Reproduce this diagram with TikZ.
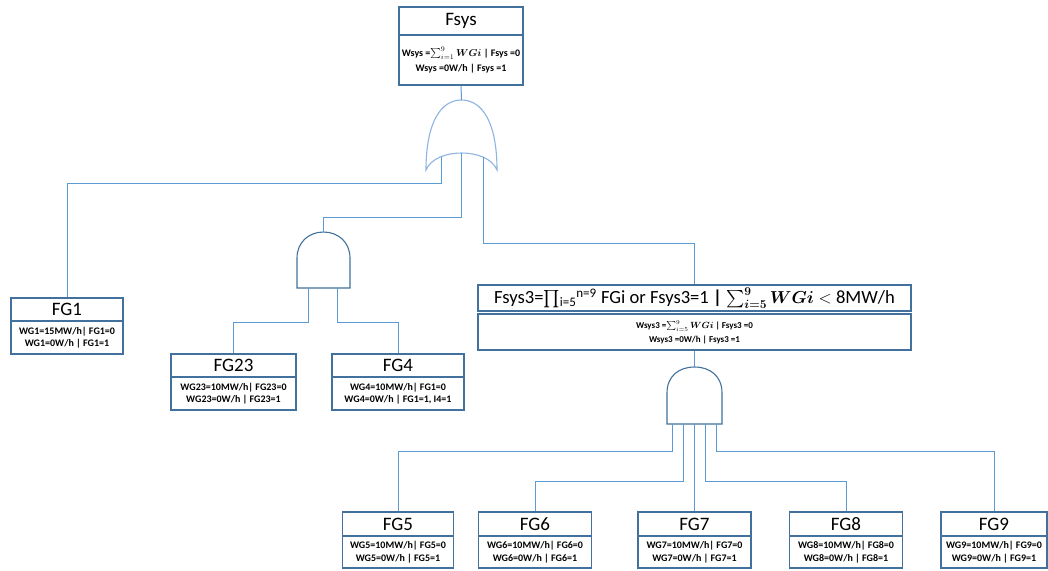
\documentclass[tikz,border=0pt]{standalone}
\usepackage{amsmath,bm}
\usepackage{fontspec}
\setmainfont{Carlito}
\definecolor{boxc}{HTML}{41719C}
\definecolor{linec}{HTML}{5B9BD5}
\definecolor{gatec}{HTML}{8DB4E2}
\begin{document}
\begin{tikzpicture}[x=1pt,y=-1pt,
  ttl/.style={draw=boxc,line width=1.1pt,inner sep=0pt,fill=white,font=\fontsize{19}{19}\selectfont},
  bdy/.style={draw=boxc,line width=1.1pt,inner sep=0pt,fill=white,align=center,font=\bfseries\fontsize{10}{12.5}\selectfont},
  conn/.style={draw=linec,line width=1pt},
  gate/.style={draw=boxc,line width=1.1pt,fill=white},
  orgate/.style={draw=gatec,line width=1.1pt,fill=white}]
\useasboundingbox (0,0) rectangle (1048,570);
% ---------- level coordinates ----------
\coordinate (lv1) at (0,183);
\coordinate (lv2) at (0,217);
\coordinate (lv3) at (0,243);
\coordinate (lv4) at (0,322);
\coordinate (lv5) at (0,451.5);
\coordinate (lv6) at (0,481);
% ---------- boxes ----------
\node[ttl,minimum width=124pt,minimum height=28pt] (fsyst) at (461,21) {Fsys};
\node[bdy,minimum width=124pt,minimum height=50pt,font=\bfseries\fontsize{10}{15}\selectfont] (fsysb) at (461,60)
  {Wsys =$\sum_{i=1}^{9}\bm{WGi}$ | Fsys =0\\Wsys =0W/h | Fsys =1};

\node[ttl,minimum width=112pt,minimum height=23pt] (fg1t) at (67,309.5) {FG1};
\node[bdy,minimum width=112pt,minimum height=33pt] (fg1b) at (67,337.5) {WG1=15MW/h| FG1=0\\WG1=0W/h | FG1=1};

\node[ttl,minimum width=125pt,minimum height=23pt] (fg23t) at (233.5,365.5) {FG23};
\node[bdy,minimum width=125pt,minimum height=33pt] (fg23b) at (233.5,393.5) {WG23=10MW/h| FG23=0\\WG23=0W/h | FG23=1};

\node[ttl,minimum width=132pt,minimum height=23pt] (fg4t) at (398,365.5) {FG4};
\node[bdy,minimum width=132pt,minimum height=33pt] (fg4b) at (398,393.5) {WG4=10MW/h| FG1=0\\WG4=0W/h | FG1=1, I4=1};

\node[ttl,minimum width=433pt,minimum height=26pt,font=\fontsize{18.6}{18.6}\selectfont] (f3t) at (694.5,298)
  {Fsys3=$\prod$\textsubscript{i=5}\textsuperscript{n=9} FGi or Fsys3=1 \textbf{|} $\sum_{\bm{i=5}}^{\bm{9}}\bm{WGi} <$ 8MW/h};
\node[bdy,minimum width=433pt,minimum height=36pt,font=\bfseries\fontsize{9}{13.5}\selectfont] (f3b) at (694.5,332)
  {Wsys3 =$\sum_{i=5}^{9}\bm{WGi}$ | Fsys3 =0\\Wsys3 =0W/h | Fsys3 =1};

\foreach \n/\x/\w in {5/398/111,6/535/113,7/694.5/113,8/846/113,9/994/106}{
  \node[ttl,minimum width=\w pt,minimum height=24pt] (fg\n t) at (\x,524) {FG\n};
  \node[bdy,minimum width=\w pt,minimum height=32pt] (fg\n b) at (\x,552) {WG\n=10MW/h| FG\n=0\\WG\n=0W/h | FG\n=1};
}
% ---------- OR gate ----------
\draw[orgate] (426,170) .. controls (426,122) and (441,100) .. (461.5,100)
  .. controls (482,100) and (497,122) .. (497,170)
  .. controls (492,158) and (476,153) .. (461.5,153)
  .. controls (447,153) and (431,158) .. (426,170) -- cycle;
\coordinate (orout) at (461.5,100);
\coordinate (orin1) at (441,157);
\coordinate (orin2) at (461.5,153);
\coordinate (orin3) at (483,157);
% ---------- AND gate 1 ----------
\draw[gate] (297,288) -- (297,258) .. controls (297,242) and (309,232) .. (323.5,232)
  .. controls (338,232) and (350,242) .. (350,258) -- (350,288) -- cycle;
\coordinate (a1out) at (323.5,232);
\coordinate (a1in1) at (308,288);
\coordinate (a1in2) at (337,288);
% ---------- AND gate 2 ----------
\draw[gate] (667,424) -- (667,393) .. controls (667,376) and (679,367) .. (694.5,367)
  .. controls (710,367) and (722,376) .. (722,393) -- (722,424) -- cycle;
\coordinate (a2out) at (694.5,367);
\coordinate (a2in1) at (672.5,424);
\coordinate (a2in2) at (683.5,424);
\coordinate (a2in3) at (694.5,424);
\coordinate (a2in4) at (705.5,424);
\coordinate (a2in5) at (716.5,424);
% ---------- connectors ----------
\draw[conn] (fsysb.south) -- (orout);
\draw[conn] (orin1) -- (orin1 |- lv1) -| (fg1t.north);
\draw[conn] (orin2) -- (orin2 |- lv2) -| (a1out);
\draw[conn] (orin3) -- (orin3 |- lv3) -| (f3t.north);
\draw[conn] (a1in1) -- (a1in1 |- lv4) -| (fg23t.north);
\draw[conn] (a1in2) -- (a1in2 |- lv4) -| (fg4t.north);
\draw[conn] (f3b.south) -- (a2out);
\draw[conn] (a2in1) -- (a2in1 |- lv5) -| (fg5t.north);
\draw[conn] (a2in2) -- (a2in2 |- lv6) -| (fg6t.north);
\draw[conn] (a2in3) -- (fg7t.north);
\draw[conn] (a2in4) -- (a2in4 |- lv6) -| (fg8t.north);
\draw[conn] (a2in5) -- (a2in5 |- lv5) -| (fg9t.north);
\end{tikzpicture}
\end{document}
